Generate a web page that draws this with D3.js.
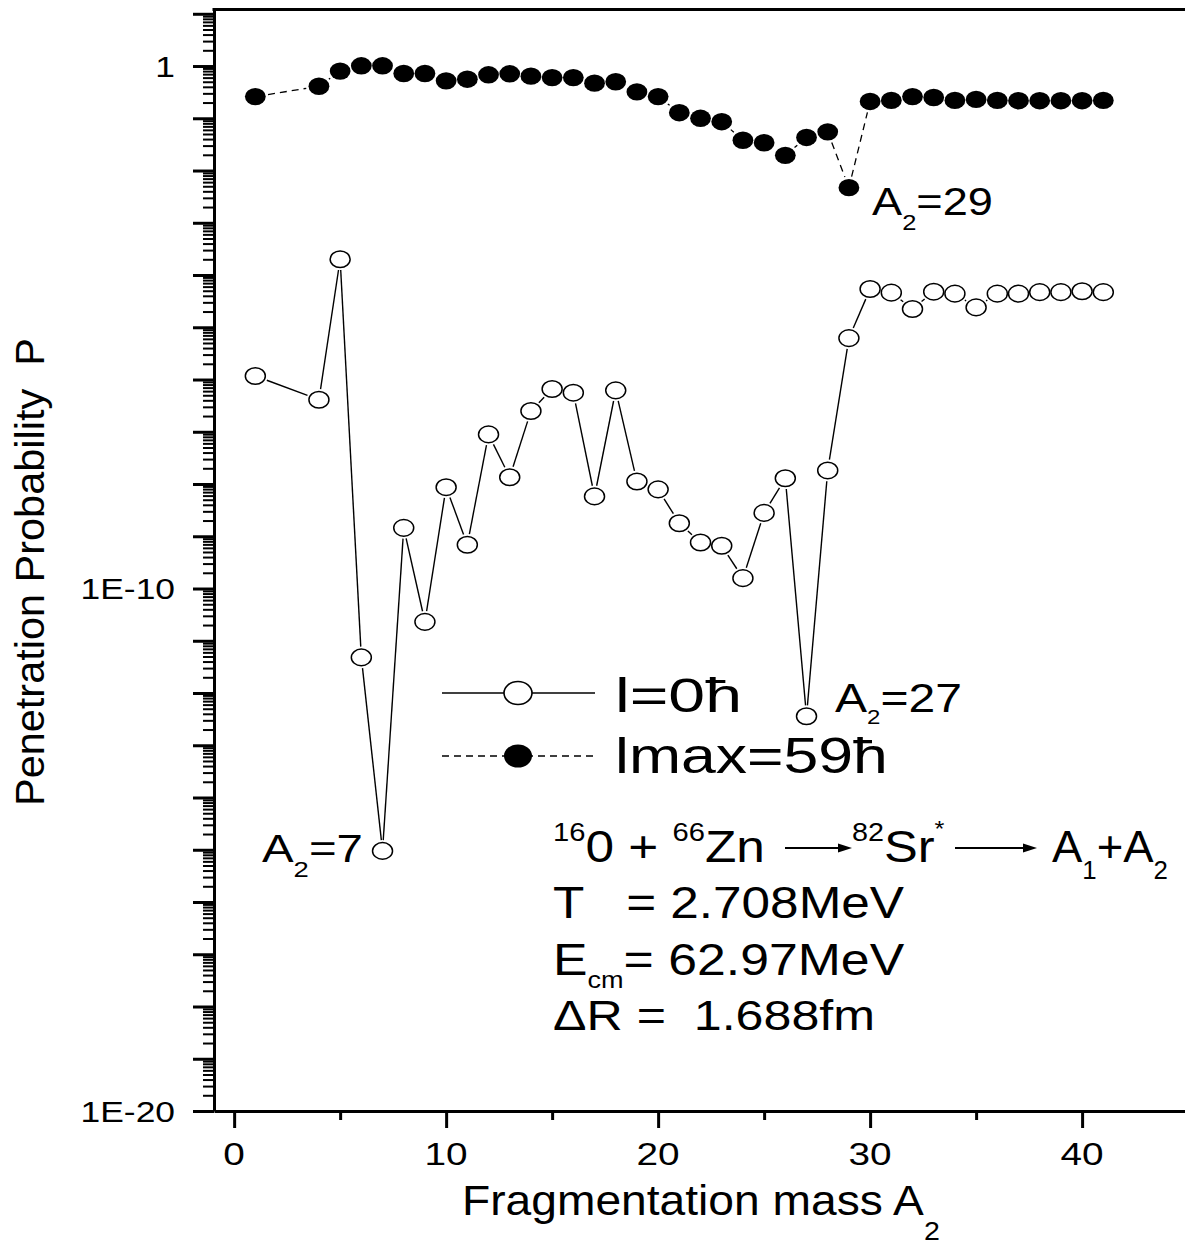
<!DOCTYPE html>
<html><head><meta charset="utf-8">
<script src="https://cdnjs.cloudflare.com/ajax/libs/d3/7.8.5/d3.min.js"></script>
<style>
body{margin:0;background:#fff}
svg{display:block}
text{font-family:"Liberation Sans",Arial,Helvetica,sans-serif;fill:#000;white-space:pre}
</style>
</head><body>
<svg id="c" width="1185" height="1245"></svg>
<script>
// ---------------- data ----------------
const massA2 = [1,4,5,6,7,8,9,10,11,12,13,14,15,16,17,18,19,20,21,22,23,24,25,26,27,28,29,30,31,32,33,34,35,36,37,38,39,40,41];
// l = 0 hbar (open circles, solid line)
const pL0 = [1.17e-6,4.1e-7,2.0e-4,4.8e-12,9.5e-16,1.45e-9,2.3e-11,8.7e-9,6.9e-10,8.9e-8,
             1.35e-8,2.5e-7,6.6e-7,5.6e-7,5.8e-9,6.2e-7,1.12e-8,7.9e-9,1.78e-9,7.6e-10,
             6.6e-10,1.58e-10,2.8e-9,1.29e-8,3.6e-13,1.82e-8,6.2e-6,5.4e-5,4.6e-5,2.24e-5,
             4.8e-5,4.4e-5,2.4e-5,4.4e-5,4.4e-5,4.7e-5,4.7e-5,4.9e-5,4.7e-5];
// lmax = 59 hbar (filled circles, dashed line)
const pLmax = [0.26,0.41,0.80,1.01,1.01,0.72,0.72,0.52,0.56,0.68,
               0.71,0.64,0.60,0.60,0.47,0.50,0.32,0.26,0.128,0.10,
               0.086,0.038,0.034,0.0195,0.043,0.055,0.0047,0.21,0.22,0.26,
               0.25,0.22,0.23,0.22,0.217,0.217,0.217,0.217,0.22];
const xTickValues = [0,10,20,30,40];
const xTickLabels = ["0","10","20","30","40"];
const xMinorTicks = [5,15,25,35];
const yLabelValues = [1,1e-10,1e-20];
const yLabelTexts = ["1","1E-10","1E-20"];
const legendLabels = ["l=0\u0127","lmax=59\u0127"];

// ---------------- setup ----------------
const svg = d3.select("#c");
const x = d3.scaleLinear().domain([-0.95, 45]).range([214, 1188.1]);
const y = d3.scaleLog().domain([1e-20, Math.pow(10,1.08)]).range([1111, 9.6]);

function fitText(parent, parts, x1, x2, baseline, size){
  const t = parent.append("text").attr("font-size", size);
  parts.forEach(p => {
    if (typeof p === "string") p = {t:p};
    const ts = t.append("tspan").text(p.t);
    if (p.size) ts.attr("font-size", p.size);
    if (p.dy) ts.attr("dy", p.dy);
  });
  const bb = t.node().getBBox();
  const s = (x2-x1)/bb.width;
  t.attr("transform", `translate(${x1 - bb.x*s},${baseline}) scale(${s},1)`);
  return t;
}

// ---------------- axes ----------------
const majors = d3.range(-20, 2).map(e => Math.pow(10, e));
const minors = [];
for (let e=-20; e<=0; e++) for (let m=2; m<=9; m++) minors.push(m*Math.pow(10,e));

const gyMin = svg.append("g").attr("transform","translate(214,0)")
  .call(d3.axisLeft(y).tickValues(minors).tickSize(11).tickSizeOuter(0).tickFormat(""));
gyMin.select(".domain").remove();
gyMin.selectAll(".tick line").attr("stroke","#000").attr("stroke-width",2);

const gy = svg.append("g").attr("transform","translate(214,0)")
  .call(d3.axisLeft(y).tickValues(majors).tickSize(21).tickSizeOuter(0).tickFormat(""));
gy.select(".domain").attr("stroke","#000").attr("stroke-width",3);
gy.selectAll(".tick line").attr("stroke","#000").attr("stroke-width",3);

const gxMin = svg.append("g").attr("transform","translate(0,1111)")
  .call(d3.axisBottom(x).tickValues(xMinorTicks).tickSize(9).tickSizeOuter(0).tickFormat(""));
gxMin.select(".domain").remove();
gxMin.selectAll(".tick line").attr("stroke","#000").attr("stroke-width",3);

const gx = svg.append("g").attr("transform","translate(0,1111)")
  .call(d3.axisBottom(x).tickValues(xTickValues).tickSize(17).tickSizeOuter(0).tickFormat(""));
gx.select(".domain").attr("stroke","#000").attr("stroke-width",3);
gx.selectAll(".tick line").attr("stroke","#000").attr("stroke-width",3);

// top frame line
svg.append("line").attr("x1",212.5).attr("x2",1185)
  .attr("y1",y.range()[1]).attr("y2",y.range()[1])
  .attr("stroke","#000").attr("stroke-width",3);

// tick labels
xTickValues.forEach((v,i)=>{
  svg.append("text").attr("font-size",31).attr("text-anchor","middle")
    .attr("transform",`translate(${x(v)},1165) scale(1.25,1)`).text(xTickLabels[i]);
});
yLabelValues.forEach((v,i)=>{
  svg.append("text").attr("font-size",30).attr("text-anchor","end")
    .attr("transform",`translate(175,${y(v)+10.5}) scale(1.18,1)`).text(yLabelTexts[i]);
});

// axis titles
{
  const t = svg.append("text").attr("font-size",40).text("Penetration Probability  P");
  const bb = t.node().getBBox();
  const s = 468/bb.width;
  t.attr("transform",`translate(44,806) rotate(-90) scale(${s},1) translate(${-bb.x},0)`);
}
fitText(svg, ["Fragmentation mass A", {t:"2", size:26, dy:25}], 462, 940, 1215, 42);

// ---------------- data marks ----------------
const dL0 = massA2.map((a,i)=>({a, p:pL0[i]}));
const dLmax = massA2.map((a,i)=>({a, p:pLmax[i]}));

function trimmedSegments(data, rx, ry, gap){
  const pts = data.map(d=>[x(d.a), y(d.p)]);
  const segs = [];
  for (let i=0;i<pts.length-1;i++){
    const [x0,y0]=pts[i],[x1,y1]=pts[i+1];
    const dx=x1-x0, dy=y1-y0, L=Math.hypot(dx,dy);
    const ux=dx/L, uy=dy/L;
    const r = 1/Math.sqrt((ux/rx)**2+(uy/ry)**2) + gap;
    if (L > 2*r+1) segs.push([x0+ux*r, y0+uy*r, x1-ux*r, y1-uy*r]);
  }
  return segs;
}

svg.append("g").selectAll("line").data(trimmedSegments(dL0,10,8.3,2.5)).join("line")
  .attr("x1",d=>d[0]).attr("y1",d=>d[1]).attr("x2",d=>d[2]).attr("y2",d=>d[3])
  .attr("stroke","#000").attr("stroke-width",1.4);
svg.append("g").selectAll("line").data(trimmedSegments(dLmax,10.4,8.7,2.5)).join("line")
  .attr("x1",d=>d[0]).attr("y1",d=>d[1]).attr("x2",d=>d[2]).attr("y2",d=>d[3])
  .attr("stroke","#000").attr("stroke-width",1.3).attr("stroke-dasharray","7,5");

svg.append("g").selectAll("ellipse").data(dL0).join("ellipse")
  .attr("cx",d=>x(d.a)).attr("cy",d=>y(d.p)).attr("rx",10).attr("ry",8.3)
  .attr("fill","#fff").attr("stroke","#000").attr("stroke-width",1.5);
svg.append("g").selectAll("ellipse").data(dLmax).join("ellipse")
  .attr("cx",d=>x(d.a)).attr("cy",d=>y(d.p)).attr("rx",10.4).attr("ry",8.7)
  .attr("fill","#000");

// ---------------- legend ----------------
const lg = svg.append("g");
lg.append("line").attr("x1",442).attr("x2",595).attr("y1",693).attr("y2",693)
  .attr("stroke","#000").attr("stroke-width",1.4);
lg.append("ellipse").attr("cx",518).attr("cy",693).attr("rx",14).attr("ry",11.5)
  .attr("fill","#fff").attr("stroke","#000").attr("stroke-width",1.6);
lg.append("line").attr("x1",442).attr("x2",595).attr("y1",756).attr("y2",756)
  .attr("stroke","#000").attr("stroke-width",1.3).attr("stroke-dasharray","7,5");
lg.append("ellipse").attr("cx",518).attr("cy",756).attr("rx",14).attr("ry",11.5)
  .attr("fill","#000");
fitText(lg, [legendLabels[0]], 615, 742, 712, 48);
fitText(lg, [legendLabels[1]], 615, 888, 773, 50);

// ---------------- annotations ----------------
fitText(svg, ["A", {t:"2", size:22, dy:15}, {t:"=29", dy:-15}], 872, 993, 215, 39);
fitText(svg, ["A", {t:"2", size:20, dy:12}, {t:"=27", dy:-12}], 835, 962, 712, 40);
fitText(svg, ["A", {t:"2", size:22, dy:15}, {t:"=7", dy:-15}], 262, 363, 862, 38);

// reaction block
fitText(svg, [{t:"16",size:25,dy:-21},{t:"0 + ",dy:21},{t:"66",size:25,dy:-21},{t:"Zn",dy:21}], 553, 765, 862, 44);
function arrow(x1, x2, yy){
  svg.append("line").attr("x1",x1).attr("x2",x2-10).attr("y1",yy).attr("y2",yy)
    .attr("stroke","#000").attr("stroke-width",2);
  svg.append("path").attr("d",`M${x2},${yy}L${x2-14},${yy-4.5}L${x2-14},${yy+4.5}Z`).attr("fill","#000");
}
arrow(785, 852, 848);
fitText(svg, [{t:"82",size:25,dy:-21},{t:"Sr",dy:21},{t:"*",size:22,dy:-26}], 852, 945, 862, 44);
arrow(955, 1037, 848);
fitText(svg, ["A", {t:"1",size:25,dy:17}, {t:"+A",dy:-17}, {t:"2",size:25,dy:17}], 1052, 1168, 862, 44);
fitText(svg, ["T   = 2.708MeV"], 553, 905, 918, 44);
fitText(svg, ["E", {t:"cm",size:23,dy:13}, {t:"= 62.97MeV",dy:-13}], 553, 905, 975, 44);
fitText(svg, ["\u0394R =  1.688fm"], 553, 875, 1030, 42);
</script>
</body></html>
